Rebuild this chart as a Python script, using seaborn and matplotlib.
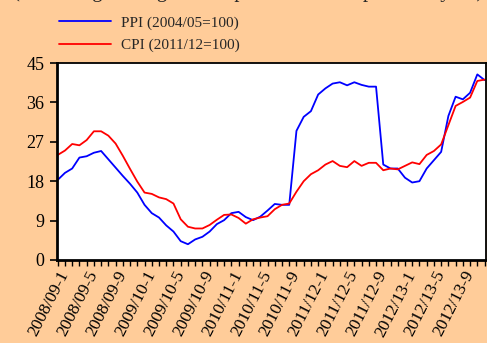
import numpy as np
import pandas as pd
import matplotlib
matplotlib.use("Agg")
import matplotlib.pyplot as plt
import matplotlib.transforms as mtransforms
import seaborn as sns

# fiscal years, months 1..12 within each year
fiscal_years = ["2008/09", "2009/10", "2010/11", "2011/12", "2012/13"]
periods = [f"{fy}-{m}" for fy in fiscal_years for m in range(1, 13)]

# PPI (2004/05=100), percent change
ppi = [18.3, 19.9, 20.9, 23.4, 23.7, 24.5, 24.9, 23.0, 21.1, 19.2,
       17.4, 15.4, 12.6, 10.7, 9.7, 7.9, 6.5, 4.3, 3.6, 4.7,
       5.3, 6.5, 8.2, 9.1, 10.7, 11.0, 9.8, 9.1, 9.9, 11.3,
       12.8, 12.6, 12.6, 29.5, 32.7, 34.0, 37.8, 39.2, 40.3, 40.6,
       39.9, 40.6, 40.0, 39.6, 39.6, 21.8, 20.9, 20.9, 18.8, 17.7,
       18.0, 20.9, 22.8, 24.7, 32.9, 37.3, 36.7, 38.2, 42.4, 41.1]

# CPI (2011/12=100), percent change
cpi = [24.0, 25.0, 26.5, 26.2, 27.4, 29.4, 29.4, 28.4, 26.6, 23.8,
       20.8, 17.9, 15.4, 15.1, 14.3, 13.9, 12.9, 9.3, 7.6, 7.2,
       7.2, 8.0, 9.2, 10.3, 10.4, 9.6, 8.3, 9.3, 9.7, 10.0,
       11.6, 12.6, 12.9, 15.6, 18.0, 19.6, 20.5, 21.8, 22.6, 21.5,
       21.2, 22.6, 21.5, 22.2, 22.2, 20.5, 20.9, 20.7, 21.5, 22.3,
       21.9, 24.0, 24.9, 26.4, 30.8, 35.2, 36.1, 37.1, 40.9, 41.2]

series_names = ["PPI (2004/05=100)", "CPI (2011/12=100)"]
y_ticks = [0, 9, 18, 27, 36, 45]

df = pd.DataFrame({
    "pos": list(range(len(periods))) * 2,
    "value": ppi + cpi,
    "series": [series_names[0]] * len(ppi) + [series_names[1]] * len(cpi),
})

sns.set_style("ticks")
plt.rcParams["font.family"] = "serif"
plt.rcParams["font.serif"] = ["Liberation Serif", "DejaVu Serif"]

bg = "#FFCC99"
fig = plt.figure(figsize=(4.87, 3.43), dpi=100, facecolor=bg)
ax = fig.add_axes([57 / 487, 1 - 260 / 343, 429 / 487, (260 - 63) / 343])
ax.set_facecolor("white")

sns.lineplot(data=df, x="pos", y="value", hue="series",
             palette={series_names[0]: "#0000FF", series_names[1]: "#FF0000"},
             linewidth=1.3, ax=ax)

ax.set_xlim(-0.1, 59.2)
ax.set_ylim(0, 45)
ax.set_yticks(y_ticks)
ax.set_yticklabels([str(t) for t in y_ticks], fontsize=13)
ax.set_xticks(range(len(periods)))
ax.set_xticklabels([p if i % 4 == 0 else "" for i, p in enumerate(periods)],
                   fontsize=12.5, rotation=63, ha="right", va="top",
                   rotation_mode="anchor")
# nudge the slanted labels a little to the right like the original
shift = mtransforms.ScaledTranslation(5 / 100, 0, fig.dpi_scale_trans)
for lab in ax.get_xticklabels():
    lab.set_transform(lab.get_transform() + shift)
ax.tick_params(axis="y", length=5, width=1.2, pad=4, colors="black")
ax.tick_params(axis="x", length=4, width=1.0, pad=2, colors="black")
ax.set_xlabel("")
ax.set_ylabel("")
for side in ["top", "right"]:
    ax.spines[side].set_linewidth(1.3)
for side in ["left", "bottom"]:
    ax.spines[side].set_linewidth(2.0)
for s in ax.spines.values():
    s.set_color("black")

ax.get_legend().remove()
handles, labels = ax.get_lines()[:2], series_names
fig.legend(handles, labels, loc="upper left",
           bbox_to_anchor=(59 / 487, 1 - 16 / 343), frameon=False,
           fontsize=11, handlelength=3.4, handletextpad=0.65,
           labelspacing=0.55, borderpad=0, borderaxespad=0)

# title mostly cut off at top of the picture
fig.text(13 / 487, 1 + 2.5 / 343, "(Percentage change in the prices over the previous year)",
         fontsize=15, va="baseline", ha="left")

fig.savefig("out.png", dpi=100, facecolor=bg)
